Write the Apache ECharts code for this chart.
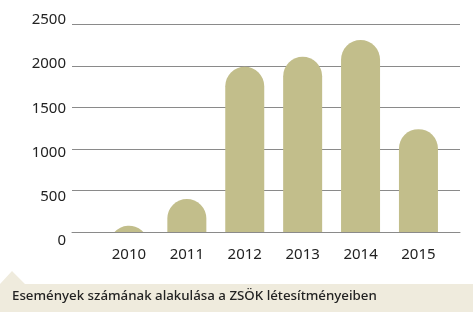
<!DOCTYPE html>
<html><head><meta charset="utf-8">
<script src="https://cdn.jsdelivr.net/npm/echarts@6/dist/echarts.min.js"></script>
<style>html,body{margin:0;padding:0;background:#fff}#c{width:474px;height:323px}</style>
</head><body><div id="c"></div>
<script>
const categories = ['2010','2011','2012','2013','2014','2015'];
const values = [80, 400, 1990, 2110, 2310, 1240];
const yTicks = [0, 500, 1000, 1500, 2000, 2500];
const caption = 'Események számának alakulása a ZSÖK létesítményeiben';

const FONT = '"Noto Sans", sans-serif';
const BAR_W = 39;
const chart = echarts.init(document.getElementById('c'), null, {renderer:'canvas'});

function renderBar(params, api){
  const i = api.value(0), v = api.value(1);
  const top = api.coord([i, v]);
  const base = api.coord([i, 0]);
  const cx = top[0], r = BAR_W/2, h = base[1]-top[1], by = base[1];
  let d;
  if (h >= r) {
    d = `M${cx-r},${by} L${cx-r},${top[1]+r} A${r},${r} 0 0 1 ${cx+r},${top[1]+r} L${cx+r},${by} Z`;
  } else {
    const w = Math.sqrt(r*r - (r-h)*(r-h));
    d = `M${cx-w},${by} A${r},${r} 0 0 1 ${cx+w},${by} Z`;
  }
  return {type:'path', shape:{pathData:d}, style:{fill:'#c2be8b'}};
}

chart.setOption({
  animation:false,
  grid:[
    {left:72, width:388, top:24.3, height:208},
    {left:100, width:347.4, top:24.3, height:208},
    {left:72, width:388, top:20, height:220.7}
  ],
  xAxis:[
    {gridIndex:0, type:'category', data:categories,
      axisLine:{show:true, lineStyle:{color:'#8a8a8a', width:1}}, axisTick:{show:false}, axisLabel:{show:false}, z:10},
    {gridIndex:1, type:'category', data:categories,
      axisLine:{show:false}, axisTick:{show:false},
      axisLabel:{color:'#222', fontFamily:FONT, fontSize:15, margin:15}},
    {gridIndex:2, type:'category', data:categories, show:false}
  ],
  yAxis:[
    {gridIndex:0, type:'value', min:0, max:2500, interval:500,
      axisLabel:{show:false}, axisLine:{show:false}, axisTick:{show:false},
      splitLine:{lineStyle:{color:'#8a8a8a', width:1}}},
    {gridIndex:1, type:'value', min:0, max:2500, interval:500, show:false},
    {gridIndex:2, type:'value', min:0, max:2500, interval:500,
      axisLine:{show:false}, axisTick:{show:false}, splitLine:{show:false},
      axisLabel:{color:'#222', fontFamily:FONT, fontSize:15, margin:6,
        customValues: yTicks, formatter: v => String(v)}}
  ],
  series:[{
    type:'custom', xAxisIndex:1, yAxisIndex:1, z:3,
    data: values.map((v,i)=>[i,v]),
    encode:{x:0, y:1},
    renderItem: renderBar
  }],
  graphic:[
    {type:'polygon', shape:{points:[[0,284],[12,271],[25,284],[473,284],[473,312],[0,312]]},
      style:{fill:'#efebdd'}, z:1},
    {type:'text', left:12, top:289.5, style:{text:caption, fill:'#222', font:'500 13.3px "Noto Sans", sans-serif'}, z:2}
  ]
});
</script></body></html>
